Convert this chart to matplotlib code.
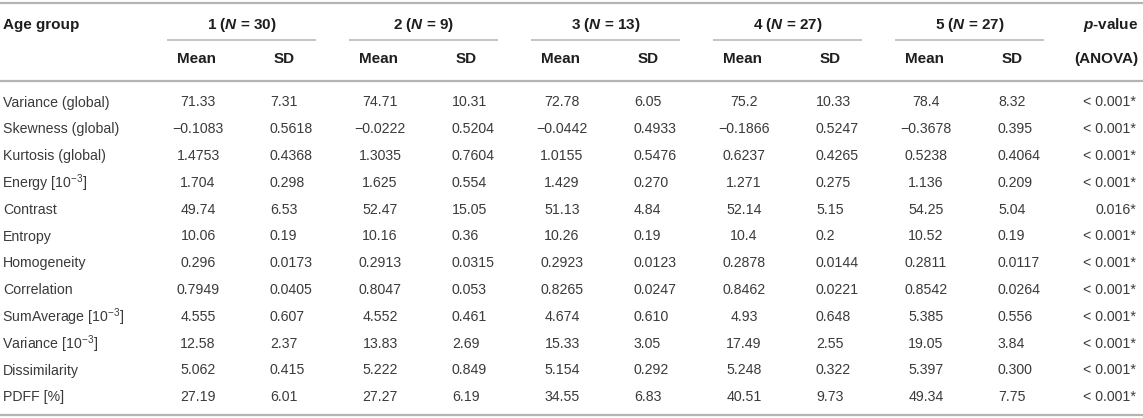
import matplotlib
matplotlib.use("Agg")
import matplotlib.pyplot as plt

plt.rcParams['font.family'] = ['Liberation Sans', 'DejaVu Sans']
plt.rcParams['mathtext.fontset'] = 'custom'
plt.rcParams['mathtext.rm'] = 'Liberation Sans'
plt.rcParams['mathtext.it'] = 'Liberation Sans:italic'
plt.rcParams['mathtext.bf'] = 'Liberation Sans:bold'
plt.rcParams['mathtext.bfit'] = 'Liberation Sans:bold:italic'

# Datos de la tabla
variables = ["Variance (global)", "Skewness (global)", "Kurtosis (global)",
             "Energy [$10^{-3}$]", "Contrast", "Entropy", "Homogeneity",
             "Correlation", "SumAverage [$10^{-3}$]", "Variance [$10^{-3}$]",
             "Dissimilarity", "PDFF [%]"]
grupos_n = [30, 9, 13, 27, 27]

mean1 = ["71.33", "−0.1083", "1.4753", "1.704", "49.74", "10.06", "0.296", "0.7949", "4.555", "12.58", "5.062", "27.19"]
sd1 = ["7.31", "0.5618", "0.4368", "0.298", "6.53", "0.19", "0.0173", "0.0405", "0.607", "2.37", "0.415", "6.01"]
mean2 = ["74.71", "−0.0222", "1.3035", "1.625", "52.47", "10.16", "0.2913", "0.8047", "4.552", "13.83", "5.222", "27.27"]
sd2 = ["10.31", "0.5204", "0.7604", "0.554", "15.05", "0.36", "0.0315", "0.053", "0.461", "2.69", "0.849", "6.19"]
mean3 = ["72.78", "−0.0442", "1.0155", "1.429", "51.13", "10.26", "0.2923", "0.8265", "4.674", "15.33", "5.154", "34.55"]
sd3 = ["6.05", "0.4933", "0.5476", "0.270", "4.84", "0.19", "0.0123", "0.0247", "0.610", "3.05", "0.292", "6.83"]
mean4 = ["75.2", "−0.1866", "0.6237", "1.271", "52.14", "10.4", "0.2878", "0.8462", "4.93", "17.49", "5.248", "40.51"]
sd4 = ["10.33", "0.5247", "0.4265", "0.275", "5.15", "0.2", "0.0144", "0.0221", "0.648", "2.55", "0.322", "9.73"]
mean5 = ["78.4", "−0.3678", "0.5238", "1.136", "54.25", "10.52", "0.2811", "0.8542", "5.385", "19.05", "5.397", "49.34"]
sd5 = ["8.32", "0.395", "0.4064", "0.209", "5.04", "0.19", "0.0117", "0.0264", "0.556", "3.84", "0.300", "7.75"]
p_valores = ["< 0.001*", "< 0.001*", "< 0.001*", "< 0.001*", "0.016*", "< 0.001*",
             "< 0.001*", "< 0.001*", "< 0.001*", "< 0.001*", "< 0.001*", "< 0.001*"]

medias = [mean1, mean2, mean3, mean4, mean5]
desvios = [sd1, sd2, sd3, sd4, sd5]

W, H = 1143, 418
fig = plt.figure(figsize=(W / 100, H / 100), dpi=100)
ax = fig.add_axes([0, 0, 1, 1])
ax.set_xlim(0, W)
ax.set_ylim(H, 0)
ax.axis('off')

gris_linea = '#b4b4b4'
col_texto = '#3a3a3a'
col_head = '#1e1e1e'
fs = 10.2
fs_head = 11

# Lineas horizontales
ax.plot([0, W], [3, 3], color=gris_linea, lw=1.6, solid_capstyle='butt')
ax.plot([0, W], [80.5, 80.5], color=gris_linea, lw=1.6, solid_capstyle='butt')
ax.plot([0, W], [415, 415], color=gris_linea, lw=1.6, solid_capstyle='butt')

inicio = 167
paso = 182
ancho = 149
y_h1, y_h2 = 25, 59

ax.text(3, y_h1, "Age group", fontsize=fs_head, fontweight='bold', color=col_head, va='center', ha='left')
for g, n in enumerate(grupos_n):
    x0 = inicio + g * paso
    ax.plot([x0, x0 + ancho], [39.5, 39.5], color=gris_linea, lw=1.1, solid_capstyle='butt')
    ax.text(x0 + ancho / 2, y_h1, f"{g + 1} ($\\mathbfit{{N}}$ = {n})", fontsize=fs_head,
            fontweight='bold', color=col_head, va='center', ha='center')
    ax.text(x0 + 30, y_h2, "Mean", fontsize=fs_head, fontweight='bold', color=col_head, va='center', ha='center')
    ax.text(x0 + 117, y_h2, "SD", fontsize=fs_head, fontweight='bold', color=col_head, va='center', ha='center')

ax.text(1138, y_h1, "$\\mathbfit{p}$-value", fontsize=fs_head, fontweight='bold', color=col_head, va='center', ha='right')
ax.text(1138, y_h2, "(ANOVA)", fontsize=fs_head, fontweight='bold', color=col_head, va='center', ha='right')

# Filas de datos
y0 = 102.5
dy = 26.8
for i, nombre in enumerate(variables):
    y = y0 + i * dy
    x_nombre = 2 if '$' in nombre else 3
    ax.text(x_nombre, y, nombre, fontsize=fs, color=col_texto, va='center', ha='left')
    for g in range(5):
        x0 = inicio + g * paso
        ax.text(x0 + 31, y, medias[g][i], fontsize=fs, color=col_texto, va='center', ha='center')
        ax.text(x0 + 103, y, desvios[g][i], fontsize=fs, color=col_texto, va='center', ha='left')
    ax.text(1136, y, p_valores[i], fontsize=fs, color=col_texto, va='center', ha='right')

fig.savefig('out.png', dpi=100)
